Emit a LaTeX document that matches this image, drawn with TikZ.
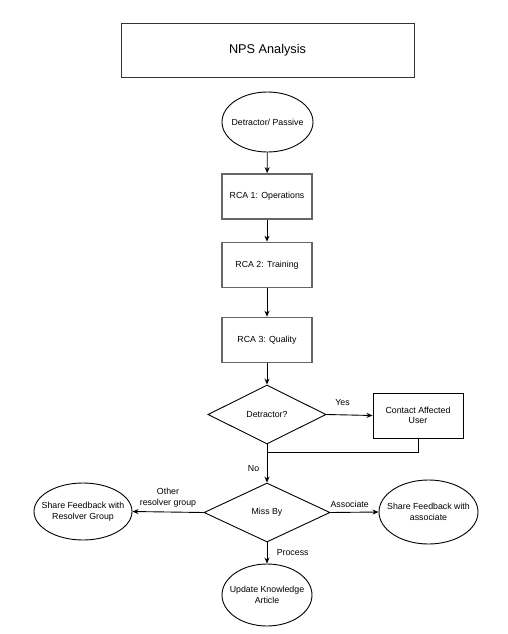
\documentclass[tikz,border=0pt]{standalone}
\usepackage{fontspec}
\setmainfont{Liberation Sans}
\usetikzlibrary{shapes.geometric,arrows.meta}

\begin{document}
\begin{tikzpicture}[x=1pt,y=-1pt,
    every node/.style={font=\fontsize{8.8}{10.5}\selectfont},
    line/.style={draw=black, line width=0.9pt},
    arr/.style={line, -{Stealth[length=6pt,width=5pt]}},
    oval/.style={ellipse, draw=black, line width=0.9pt, inner sep=-30pt, align=center},
    rcabox/.style={rectangle, draw=black!60, line width=1.6pt, minimum width=90pt, minimum height=45pt, inner sep=0pt},
    decision/.style={diamond, draw=black, line width=0.9pt, inner sep=0pt, aspect=2}]
  \useasboundingbox (0,0) rectangle (508,634);

  \node[rectangle, draw=black!80, line width=1pt, minimum width=293pt, minimum height=53pt, inner sep=0pt,
        font=\fontsize{12.7}{15}\selectfont] (title) at (267.5,50.5) {NPS Analysis};

  \node[oval, minimum width=91pt, minimum height=60pt] (dp) at (267.5,122) {Detractor/ Passive};
  \node[rcabox] (rca1) at (267,196.5) {RCA 1: Operations};
  \node[rcabox] (rca2) at (267,265) {RCA 2: Training};
  \node[rcabox] (rca3) at (267,340) {RCA 3: Quality};

  \node[decision, minimum width=118pt, minimum height=59pt] (det) at (267,414.5) {Detractor?};
  \node[rectangle, draw=black, line width=0.9pt, minimum width=90pt, minimum height=45pt, inner sep=0pt, align=center]
        (contact) at (418,415.5) {Contact Affected\\User};
  \coordinate (join) at (267,452);

  \node[decision, minimum width=126pt, minimum height=59pt] (miss) at (267,512.5) {Miss By};
  \node[oval, minimum width=98pt, minimum height=57pt] (resolver) at (83,511.5) {Share Feedback with\\Resolver Group};
  \node[oval, minimum width=99pt, minimum height=64pt] (assoc) at (428.5,512) {Share Feedback with\\associate};
  \node[oval, minimum width=90pt, minimum height=62pt] (kb) at (267,595) {Update Knowledge\\Article};

  \draw[arr] (dp) -- (rca1);
  \draw[arr] (rca1) -- (rca2);
  \draw[arr] (rca2) -- (rca3);
  \draw[arr] (rca3) -- (det);
  \draw[arr] (det.east) -- (contact.west) node[pos=0.35, above=5pt] {Yes};
  \draw[line] (contact.south) |- (join);
  \draw[arr] (det.south) -- (miss.north) node[pos=0.62, left=4pt] {No};
  \draw[arr] (miss.west) -- (resolver.east) node[pos=0.5, above=1pt, align=center] {Other\\resolver group};
  \draw[arr] (miss.east) -- (assoc.west) node[pos=0.4, above=1pt] {Associate};
  \draw[arr] (miss.south) -- (kb.north) node[midway, right=6pt] {Process};
\end{tikzpicture}
\end{document}
